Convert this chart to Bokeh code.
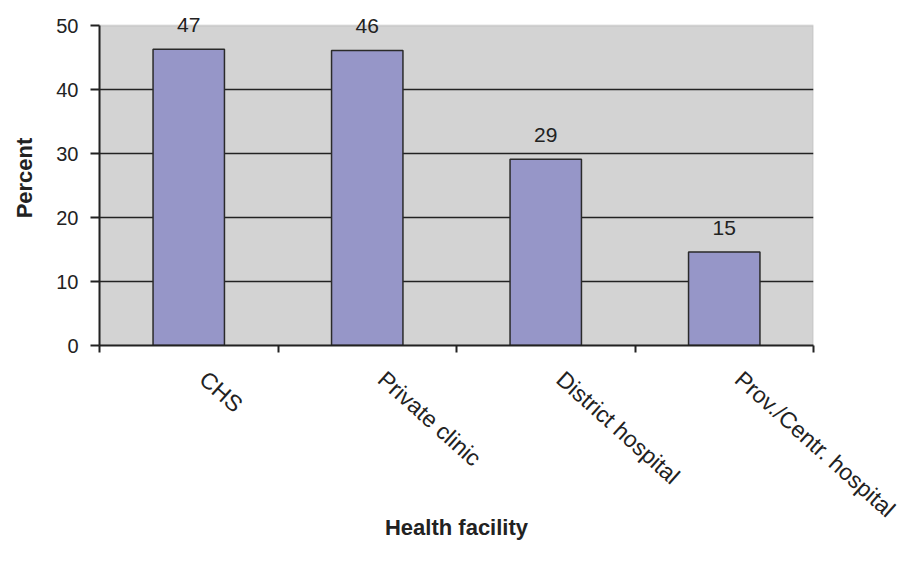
from bokeh.plotting import figure
from bokeh.models import ColumnDataSource, Range1d, FixedTicker, Label, BoxAnnotation
from bokeh.embed import file_html
from bokeh.resources import INLINE

categories = ["CHS", "Private clinic", "District hospital", "Prov./Centr. hospital"]
values = [46.3, 46.1, 29.1, 14.6]
value_labels = ["47", "46", "29", "15"]
y_ticks = [0, 10, 20, 30, 40, 50]
y_max = 50

centers = [i + 0.5 for i in range(len(categories))]
src = ColumnDataSource(dict(x=centers, top=values, lab=value_labels))

FONT = "Liberation Sans"

# frame extends 15px above the 50 line so that value labels are not clipped
p = figure(width=912, height=566, output_backend="svg", toolbar_location=None,
           x_range=Range1d(0, len(categories)), y_range=Range1d(0, y_max + 15 / 6.4),
           min_border_left=99, min_border_right=99, min_border_top=10, min_border_bottom=221)

p.background_fill_color = "white"
p.border_fill_color = "white"
p.outline_line_color = None

# grey plot area 0..50
p.add_layout(BoxAnnotation(left=0, right=len(categories), bottom=0, top=y_max,
                           fill_color="#D3D3D3", fill_alpha=1.0,
                           line_color="#A0A0A0", line_width=2, level="image"))

p.vbar(x="x", top="top", bottom=0, width=0.4, source=src,
       fill_color="#9696C8", line_color="#2a2a2a", line_width=1.5)

for xc, v, lab in zip(centers, values, value_labels):
    p.add_layout(Label(x=xc, y=v, text=lab, text_align="center",
                       text_baseline="alphabetic", y_offset=24, text_font=FONT,
                       text_font_size="21px", text_color="#222222"))

# y axis
p.yaxis.ticker = FixedTicker(ticks=y_ticks)
p.yaxis.bounds = (0, y_max)
p.yaxis.axis_label = "Percent"
p.yaxis.axis_label_text_font = FONT
p.yaxis.axis_label_text_font_style = "bold"
p.yaxis.axis_label_text_font_size = "22px"
p.yaxis.axis_label_text_color = "#222222"
p.yaxis.axis_label_standoff = 16
p.yaxis.major_label_text_font = FONT
p.yaxis.major_label_text_font_size = "20px"
p.yaxis.major_label_text_color = "#222222"
p.yaxis.major_label_standoff = 12
p.yaxis.major_tick_out = 9
p.yaxis.major_tick_in = 0
p.yaxis.minor_tick_out = 0
p.yaxis.minor_tick_in = 0
p.yaxis.axis_line_color = "#222222"
p.yaxis.axis_line_width = 2
p.yaxis.major_tick_line_color = "#222222"
p.yaxis.major_tick_line_width = 2

# x axis (labels nudged slightly right of the category centre, as in the original)
label_pos = [c + 0.08 for c in centers]
p.xaxis.ticker = FixedTicker(ticks=label_pos, minor_ticks=list(range(len(categories) + 1)))
p.xaxis.major_label_overrides = {c: lab for c, lab in zip(label_pos, categories)}
p.xaxis.major_label_orientation = -0.73
p.xaxis.major_label_text_font = FONT
p.xaxis.major_label_text_font_size = "23px"
p.xaxis.major_label_text_color = "#222222"
p.xaxis.major_label_standoff = 23
p.xaxis.major_tick_out = 0
p.xaxis.major_tick_in = 0
p.xaxis.minor_tick_out = 7
p.xaxis.minor_tick_in = 0
p.xaxis.minor_tick_line_color = "#222222"
p.xaxis.minor_tick_line_width = 2
p.xaxis.axis_line_color = "#222222"
p.xaxis.axis_line_width = 2
p.xaxis.axis_label = "Health facility"
p.xaxis.axis_label_text_font = FONT
p.xaxis.axis_label_text_font_style = "bold"
p.xaxis.axis_label_text_font_size = "22px"
p.xaxis.axis_label_text_color = "#222222"
p.xaxis.axis_label_standoff = -20

p.xgrid.grid_line_color = None
p.ygrid.ticker = FixedTicker(ticks=[t for t in y_ticks if t < y_max])
p.ygrid.grid_line_color = "#222222"
p.ygrid.grid_line_width = 1.5

open("out.html", "w").write(file_html(p, INLINE))
